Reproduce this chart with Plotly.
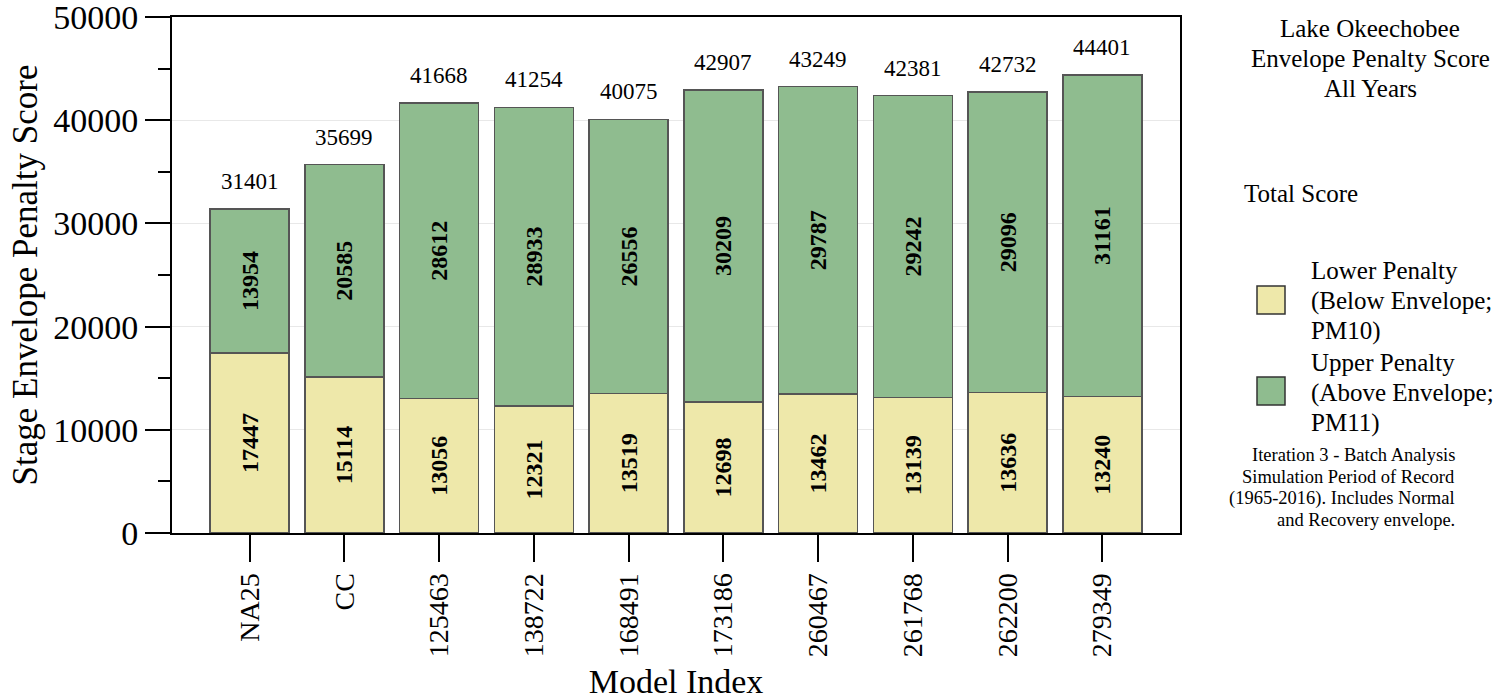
import plotly.graph_objects as go

categories = ["NA25", "CC", "125463", "138722", "168491", "173186", "260467", "261768", "262200", "279349"]
lower_penalty = [17447, 15114, 13056, 12321, 13519, 12698, 13462, 13139, 13636, 13240]
upper_penalty = [13954, 20585, 28612, 28933, 26556, 30209, 29787, 29242, 29096, 31161]
totals = [31401, 35699, 41668, 41254, 40075, 42907, 43249, 42381, 42732, 44401]
y_ticks = [0, 10000, 20000, 30000, 40000, 50000]
y_minor_ticks = [5000, 15000, 25000, 35000, 45000]

title_lines = ["Lake Okeechobee", "Envelope Penalty Score", "All Years"]
legend_title = "Total Score"
lower_name = ["Lower Penalty", "(Below Envelope;", "PM10)"]
upper_name = ["Upper Penalty", "(Above Envelope;", "PM11)"]
note_lines = ["Iteration 3 - Batch Analysis", "Simulation Period of Record",
              "(1965-2016). Includes Normal", "and Recovery envelope."]

LOWER_COLOR = "#EEE8AA"
UPPER_COLOR = "#8FBC8F"
FONT = "Liberation Serif, Times New Roman, serif"

W, H = 1504, 700
# plot area in screen pixels
L, R, T, B = 172, 1180, 17, 533


def px(x):
    return (x - L) / (R - L)


def py(y):
    return (B - y) / (B - T)


fig = go.Figure()
for vals, color, name in ((lower_penalty, LOWER_COLOR, " ".join(lower_name)),
                          (upper_penalty, UPPER_COLOR, " ".join(upper_name))):
    fig.add_trace(go.Bar(
        x=categories, y=vals, name=name,
        marker=dict(color=color, line=dict(color="#555555", width=1.5)),
        width=0.835,
        text=[str(v) for v in vals], textposition="inside",
        insidetextanchor="middle", textangle=-90, constraintext="none",
        insidetextfont=dict(family=FONT, size=24, color="black", weight="bold"),
        showlegend=False,
    ))

annotations = []
for i, t in enumerate(totals):
    annotations.append(dict(x=i, y=t, xref="x", yref="y", text=str(t), showarrow=False,
                            yanchor="bottom", yshift=13,
                            font=dict(family=FONT, size=23, color="black")))

for i, line in enumerate(title_lines):
    annotations.append(dict(x=px(1370), y=py(28 + 30 * i), xref="paper", yref="paper",
                            text=line, showarrow=False, xanchor="center", yanchor="middle",
                            font=dict(family=FONT, size=25, color="black")))

annotations.append(dict(x=px(1242), y=py(193), xref="paper", yref="paper", text=legend_title,
                        showarrow=False, xanchor="left", yanchor="middle",
                        font=dict(family=FONT, size=25, color="black")))

for name, y0 in ((lower_name, 270), (upper_name, 362)):
    for i, line in enumerate(name):
        annotations.append(dict(x=px(1309), y=py(y0 + 30.5 * i), xref="paper", yref="paper",
                                text=line, showarrow=False, xanchor="left", yanchor="middle",
                                font=dict(family=FONT, size=25, color="black")))

for i, line in enumerate(note_lines):
    annotations.append(dict(x=px(1457), y=py(455 + 21.5 * i), xref="paper", yref="paper",
                            text=line, showarrow=False, xanchor="right", yanchor="middle",
                            font=dict(family=FONT, size=18.5, color="black")))

shapes = []
for color, yc in ((LOWER_COLOR, 300), (UPPER_COLOR, 391)):
    shapes.append(dict(type="rect", xref="paper", yref="paper",
                       x0=px(1257), x1=px(1285), y0=py(yc + 14), y1=py(yc - 14),
                       fillcolor=color, line=dict(color="#333333", width=1.5)))

fig.update_layout(
    barmode="stack",
    width=W, height=H,
    margin=dict(l=L, r=W - R, t=T, b=H - B, autoexpand=False),
    plot_bgcolor="white", paper_bgcolor="white",
    font=dict(family=FONT, color="black"),
    showlegend=False,
    annotations=annotations,
    shapes=shapes,
    xaxis=dict(
        type="category", range=[-0.82, 9.82],
        showline=True, linecolor="black", linewidth=2, mirror=True,
        ticks="outside", ticklen=27, tickwidth=2, tickcolor="black",
        tickangle=-90, tickfont=dict(family=FONT, size=28, color="black"),
        title=dict(text="Model Index", font=dict(family=FONT, size=34, color="black"), standoff=22),
        showgrid=False, automargin=False,
    ),
    yaxis=dict(
        range=[0, 50000], tickmode="array", tickvals=y_ticks,
        ticktext=[str(v) for v in y_ticks], ticklabeloverflow="allow",
        showline=True, linecolor="black", linewidth=2, mirror=True,
        ticks="outside", ticklen=25, tickwidth=2, tickcolor="black",
        tickfont=dict(family=FONT, size=34, color="black"),
        showgrid=True, gridcolor="#e8e8e8", gridwidth=1, zeroline=False,
        minor=dict(tickmode="array", tickvals=y_minor_ticks,
                   ticks="outside", ticklen=12, tickwidth=2, tickcolor="black", showgrid=False),
        title=dict(text="Stage Envelope Penalty Score", font=dict(family=FONT, size=35, color="black"), standoff=5),
        automargin=False,
    ),
)

fig.write_html("out.html", config={"displayModeBar": False},
               post_script="document.body.style.margin='0px';document.body.style.overflow='hidden';")
